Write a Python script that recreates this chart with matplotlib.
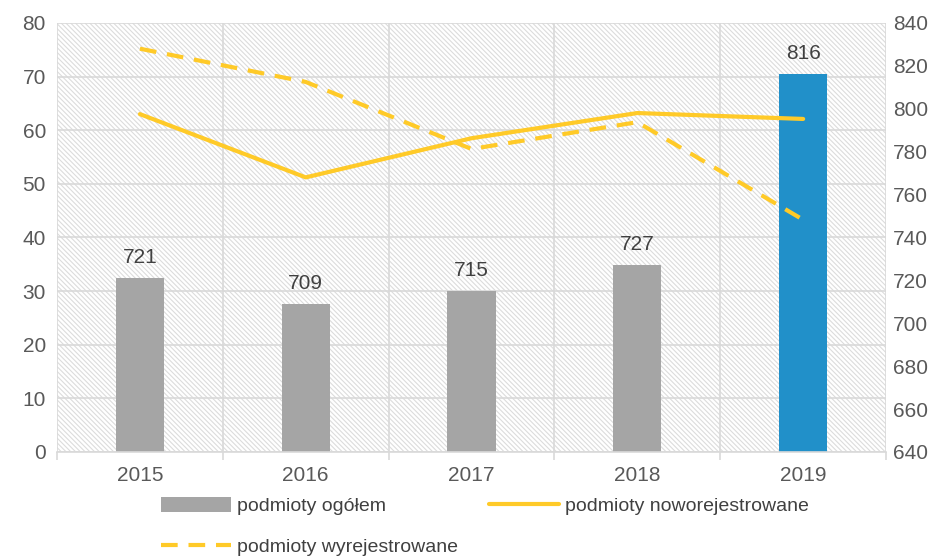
import matplotlib
matplotlib.use('Agg')
import matplotlib.pyplot as plt
from matplotlib.patches import Rectangle
from matplotlib.ticker import FixedLocator
import numpy as np

matplotlib.rcParams['font.family'] = ['Liberation Sans Narrow', 'Liberation Sans', 'DejaVu Sans']
matplotlib.rcParams['font.size'] = 14
matplotlib.rcParams['hatch.linewidth'] = 0.8

years = ['2015', '2016', '2017', '2018', '2019']
ogolem = [721, 709, 715, 727, 816]
nowo = [63.0, 51.2, 58.5, 63.2, 62.1]
wyrej = [75.2, 69.0, 56.5, 61.5, 43.3]

bar_colors = ['#A5A5A5', '#A5A5A5', '#A5A5A5', '#A5A5A5', '#2190C9']
line_color = '#FFCA28'
text_color = '#595959'
grid_color = '#D9D9D9'

fig = plt.figure(figsize=(9.41, 5.6), dpi=100)
ax = fig.add_axes([0.0606, 0.193, 0.881, 0.766])
ax2 = ax.twinx()

x = np.arange(len(years))

# tlo w paski
bg = Rectangle((0, 0), 1, 1, transform=ax.transAxes, facecolor='white',
               edgecolor='#DCDCDC', hatch='\\' * 7, lw=0, zorder=0.1)
ax.add_patch(bg)

# slupki - prawa os
bars = ax.bar(x, ogolem, width=0.29, color=bar_colors, zorder=2, label='podmioty ogółem')
ax.bar_label(bars, labels=[str(v) for v in ogolem], padding=8, color='#404040', fontsize=15)
ax.set_ylim(640, 840)
ax.set_xlim(-0.5, len(years) - 0.5)
ax.yaxis.tick_right()
ax.set_yticks(np.arange(640, 841, 20))
ax.yaxis.set_minor_locator(FixedLocator(np.linspace(640, 840, 9)))
ax.yaxis.remove_overlapping_locs = False
ax.tick_params(axis='y', which='both', length=0, colors=text_color, labelsize=15, pad=5)
ax.set_axisbelow(True)
ax.grid(which='minor', axis='y', color=grid_color, lw=1.2)

ax.set_xticks(x)
ax.set_xticklabels(years)
ax.xaxis.set_minor_locator(FixedLocator(np.arange(-0.5, len(years), 1.0)))
ax.xaxis.remove_overlapping_locs = False
ax.tick_params(axis='x', which='major', length=0, pad=10, colors=text_color, labelsize=15)
ax.tick_params(axis='x', which='minor', length=6, color=grid_color, width=1.2)
ax.grid(which='minor', axis='x', color=grid_color, lw=1.2)

for s in ['top', 'right', 'left']:
    ax.spines[s].set_visible(False)
ax.spines['bottom'].set_color(grid_color)
ax.spines['bottom'].set_linewidth(1.2)

# linie - lewa os
l1, = ax2.plot(x, nowo, color=line_color, lw=3, solid_capstyle='round', label='podmioty noworejestrowane')
l2, = ax2.plot(x, wyrej, color=line_color, lw=3, linestyle=(0, (4, 2.6)),
               label='podmioty wyrejestrowane')
ax2.set_ylim(0, 80)
ax2.set_yticks(np.arange(0, 81, 10))
ax2.yaxis.tick_left()
ax2.tick_params(axis='y', length=0, colors=text_color, labelsize=15, pad=8)
for s in ax2.spines.values():
    s.set_visible(False)

fig.legend(handles=[bars, l2, l1],
           labels=['podmioty ogółem', 'podmioty wyrejestrowane', 'podmioty noworejestrowane'],
           loc='upper left', bbox_to_anchor=(0.163, 0.127), ncol=2, frameon=False,
           handlelength=3.6, handleheight=0.8, columnspacing=1.6, labelspacing=1.2,
           handletextpad=0.3, fontsize=14, labelcolor='#404040', borderaxespad=0)

fig.savefig('out.png', dpi=100)
